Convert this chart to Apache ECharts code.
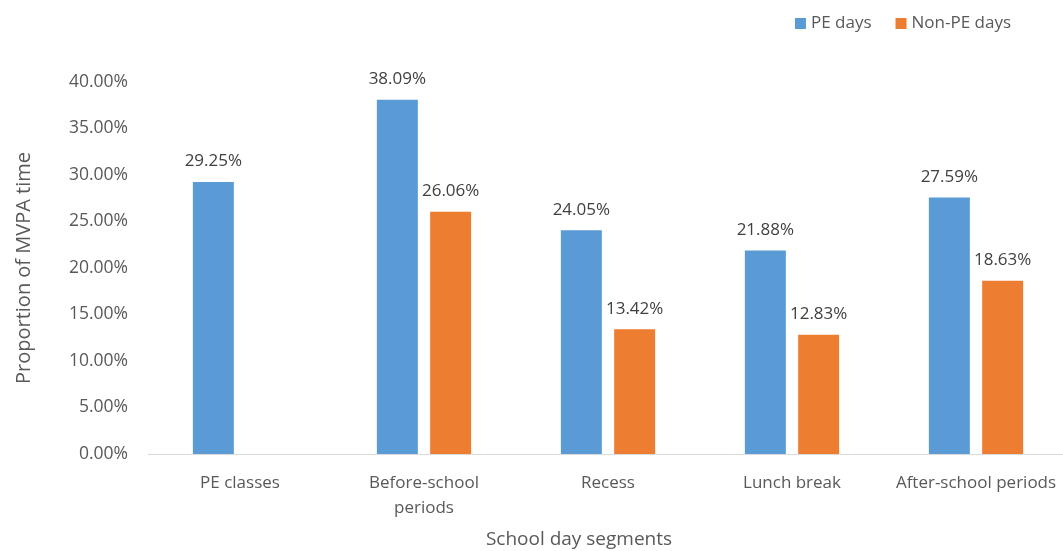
<!DOCTYPE html>
<html>
<head>
<meta charset="utf-8">
<script src="https://cdn.jsdelivr.net/npm/echarts@6/dist/echarts.min.js"></script>
<style>
  html, body { margin: 0; padding: 0; background: #fff; }
  #chart { width: 1063px; height: 551px; }
</style>
</head>
<body>
<div id="chart"></div>
<script>
// school day segments (x axis)
var categories = ['PE classes', 'Before-school\nperiods', 'Recess', 'Lunch break', 'After-school periods'];
// proportion of MVPA time, %
var peDays = [29.25, 38.09, 24.05, 21.88, 27.59];
var nonPeDays = [null, 26.06, 13.42, 12.83, 18.63];
var yTicks = [0, 5, 10, 15, 20, 25, 30, 35, 40];

var chart = echarts.init(document.getElementById('chart'));

var labelStyle = {
  show: true,
  position: 'top',
  distance: 12,
  color: '#404040',
  fontFamily: 'Open Sans',
  fontSize: 17,
  formatter: function (p) { return p.value == null ? '' : p.value.toFixed(2) + '%'; }
};

var options = {
  animation: false,
  legend: {
    top: 10,
    right: 47,
    icon: 'rect',
    itemWidth: 11,
    itemHeight: 11,
    itemGap: 24,
    itemTextGap: 6,
    textStyle: { color: '#595959', fontFamily: 'Open Sans', fontSize: 17 },
    data: ['PE days', 'Non-PE days']
  },
  grid: {
    left: 148,
    right: -5,
    top: 82,
    bottom: 97,
    outerBoundsMode: 'none',
    containLabel: false
  },
  xAxis: {
    type: 'category',
    data: categories,
    name: 'School day segments',
    nameLocation: 'middle',
    nameGap: 76,
    nameTextStyle: { color: '#595959', fontFamily: 'Open Sans', fontSize: 19, padding: [0, 58, 0, 0] },
    axisLine: { lineStyle: { color: '#d9d9d9', width: 1 } },
    axisTick: { show: false },
    axisLabel: {
      color: '#595959',
      fontFamily: 'Open Sans',
      fontSize: 17,
      margin: 17,
      lineHeight: 25,
      interval: 0
    }
  },
  yAxis: {
    type: 'value',
    min: yTicks[0],
    max: yTicks[yTicks.length - 1],
    interval: 5,
    name: 'Proportion of MVPA time',
    nameLocation: 'middle',
    nameGap: 114,
    nameTextStyle: { color: '#595959', fontFamily: 'Open Sans', fontSize: 20 },
    axisLine: { show: false },
    axisTick: { show: false },
    splitLine: { show: false },
    axisLabel: {
      color: '#595959',
      fontFamily: 'Open Sans',
      fontSize: 17.5,
      margin: 20,
      formatter: function (v) { return v.toFixed(2) + '%'; }
    }
  },
  series: [
    {
      name: 'PE days',
      type: 'bar',
      data: peDays,
      barWidth: 41,
      barGap: '30%',
      itemStyle: { color: '#5b9bd5' },
      label: labelStyle
    },
    {
      name: 'Non-PE days',
      type: 'bar',
      data: nonPeDays,
      barWidth: 41,
      itemStyle: { color: '#ed7d31' },
      label: labelStyle
    }
  ]
};
chart.setOption(options);
</script>
</body>
</html>
